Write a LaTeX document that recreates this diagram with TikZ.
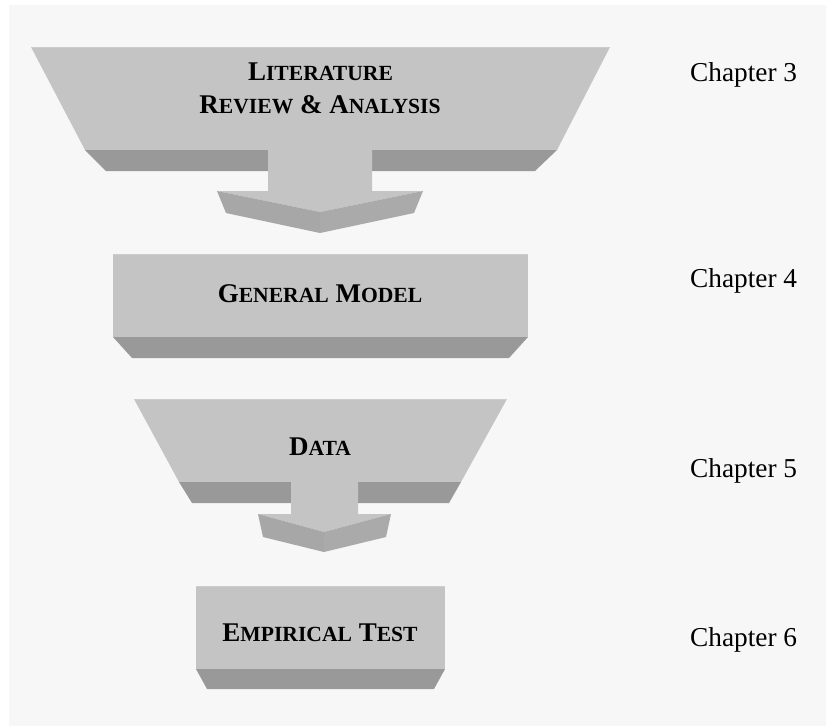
\documentclass[tikz,border=0pt]{standalone}
\usepackage{fontspec}
\setmainfont{Liberation Serif}
\definecolor{bgc}{HTML}{F7F7F7}
\definecolor{facec}{HTML}{C4C4C4}
\definecolor{bandc}{HTML}{999999}
\definecolor{headl}{HTML}{A7A7A7}
\definecolor{headr}{HTML}{AAAAAA}
\definecolor{edgec}{HTML}{CDCDCD}
\newcommand\scword[2]{{\fontsize{27}{27}\selectfont #1}{\fontsize{21.6}{21.6}\selectfont #2}}
\tikzset{
  face/.style={fill=facec},
  band/.style={fill=bandc},
  hleft/.style={fill=headl},
  hright/.style={fill=headr},
  topedge/.style={draw=edgec,line width=1pt},
  boxlabel/.style={anchor=base,inner sep=0pt,font=\bfseries\fontsize{27}{27}\selectfont},
  chap/.style={anchor=base west,inner sep=0pt,font=\fontsize{27.3}{27.3}\selectfont}
}
\begin{document}
\begin{tikzpicture}[x=1pt,y=-1pt]
\useasboundingbox (0,0) rectangle (826,726);
\fill[white] (0,0) rectangle (826,726);
\fill[bgc] (9,5) rectangle (826,726);

% Literature review trapezoid
\path[face] (31,47) -- (610,47) -- (557,150) -- (85,150) -- cycle;
\path[band] (85,150) -- (557,150) -- (535,171) -- (106,171) -- cycle;
\draw[topedge] (31,47) -- (610,47);
% arrow 1
\path[face] (268,150) -- (372,150) -- (372,191) -- (423,191) -- (320,212) -- (217,191) -- (268,191) -- cycle;
\path[hleft] (217,191) -- (320,212) -- (320,233) -- (226,213) -- cycle;
\path[hright] (320,212) -- (423,191) -- (414,213) -- (320,233) -- cycle;

% General model box
\path[face] (113,254) rectangle (528,337);
\path[band] (113,337) -- (528,337) -- (509,358) -- (132,358) -- cycle;
\draw[topedge] (113,254) -- (528,254);

% Data trapezoid
\path[face] (134,399) -- (507,399) -- (461,482) -- (179,482) -- cycle;
\path[band] (179,482) -- (461,482) -- (449,503) -- (192,503) -- cycle;
\draw[topedge] (134,399) -- (507,399);
% arrow 2
\path[face] (291,482) -- (358,482) -- (358,514) -- (391,514) -- (324,532) -- (258,514) -- (291,514) -- cycle;
\path[hleft] (258,514) -- (324,532) -- (324,552) -- (263,537) -- cycle;
\path[hright] (324,532) -- (391,514) -- (386,537) -- (324,552) -- cycle;

% Empirical test box
\path[face] (196,586) rectangle (445,669);
\path[band] (196,669) -- (445,669) -- (434,689) -- (207,689) -- cycle;
\draw[topedge] (196,586) -- (445,586);

% labels
\node[boxlabel] (lit1) at (320.5,80) {\scword{L}{ITERATURE}};
\node[boxlabel] (lit2) at (320,113) {\scword{R}{EVIEW} \scword{\&}{} \scword{A}{NALYSIS}};
\node[boxlabel] (gen) at (320,302) {\scword{G}{ENERAL} \scword{M}{ODEL}};
\node[boxlabel] (data) at (320,455) {\scword{D}{ATA}};
\node[boxlabel] (emp) at (320,641) {\scword{E}{MPIRICAL} \scword{T}{EST}};

\node[chap] (c3) at (690,81) {Chapter 3};
\node[chap] (c4) at (690,287) {Chapter 4};
\node[chap] (c5) at (690,477) {Chapter 5};
\node[chap] (c6) at (690,646) {Chapter 6};
\end{tikzpicture}
\end{document}
